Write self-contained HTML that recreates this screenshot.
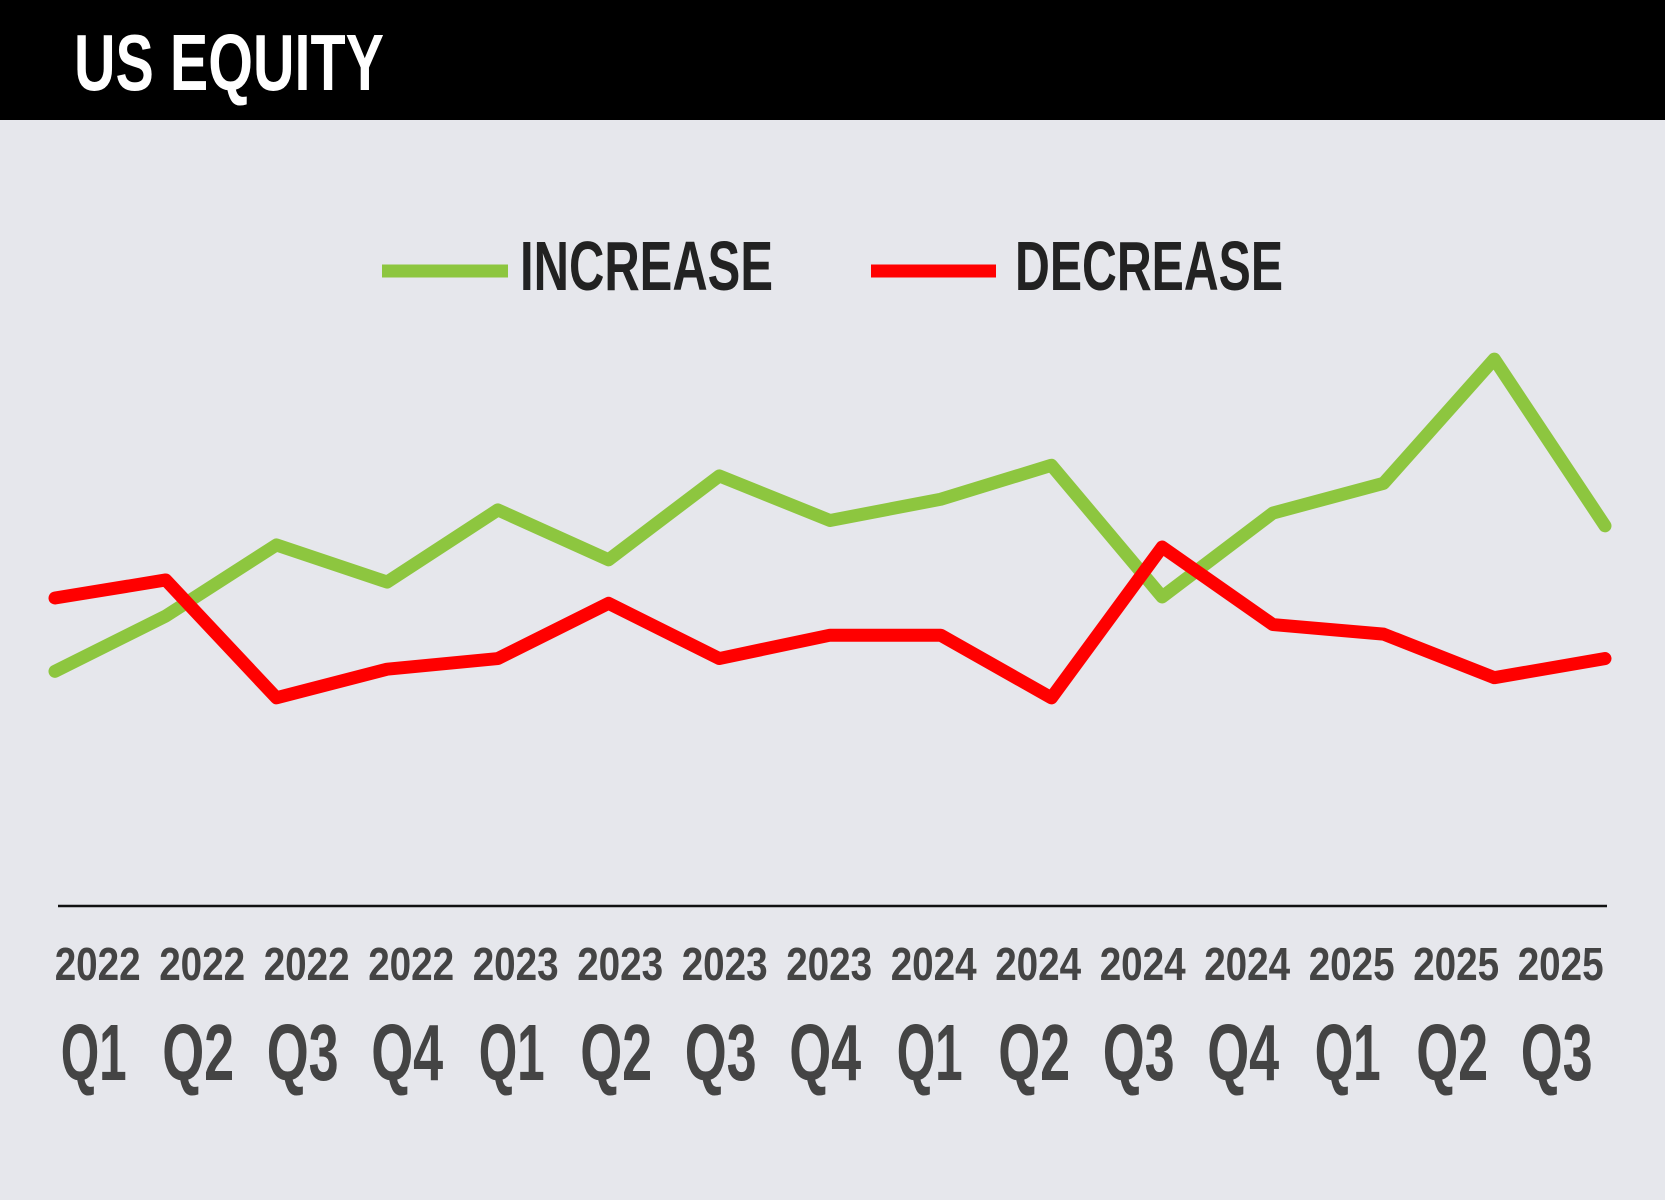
<!DOCTYPE html>
<html>
<head>
<meta charset="utf-8">
<style>
  html, body { margin: 0; padding: 0; }
  body { width: 1665px; height: 1200px; background: #e6e7ec; overflow: hidden; }
  svg { display: block; }
  text { font-family: "Liberation Sans", sans-serif; font-weight: bold; }
</style>
</head>
<body>
<svg id="chart" width="1665" height="1200" viewBox="0 0 1665 1200">
  <rect x="0" y="0" width="1665" height="1200" fill="#e6e7ec"/>
  <rect x="0" y="0" width="1665" height="120" fill="#000"/>
  <text x="74" y="90" font-size="80" fill="#fff" textLength="310" lengthAdjust="spacingAndGlyphs">US EQUITY</text>

  <g>
    <line x1="382" y1="271" x2="508" y2="271" stroke="#8dc63f" stroke-width="13"/>
    <text x="520" y="290" font-size="70" fill="#222" textLength="253" lengthAdjust="spacingAndGlyphs">INCREASE</text>
    <line x1="871" y1="271" x2="996" y2="271" stroke="#ff0000" stroke-width="13"/>
    <text x="1015" y="290" font-size="70" fill="#222" textLength="268" lengthAdjust="spacingAndGlyphs">DECREASE</text>
  </g>

  <line x1="58" y1="906" x2="1607" y2="906" stroke="#111" stroke-width="2.5"/>
  <g id="series"></g>
  <g id="labels"></g>
</svg>
<script>
const years = ["2022","2022","2022","2022","2023","2023","2023","2023","2024","2024","2024","2024","2025","2025","2025"];
const quarters = ["Q1","Q2","Q3","Q4","Q1","Q2","Q3","Q4","Q1","Q2","Q3","Q4","Q1","Q2","Q3"];
const increaseValues = [44.2, 54.6, 68, 61, 74.6, 65.2, 81, 72.6, 76.6, 83, 58.2, 74, 79.6, 103, 71.6];
const decreaseValues = [58, 61.4, 39.2, 44.6, 46.6, 57, 46.6, 51, 51, 39.2, 67.6, 53, 51.2, 43, 46.6];

const NS = "http://www.w3.org/2000/svg";
function xPos(i) { return 55 + i * (1605 - 55) / (years.length - 1); }
function yPos(v) { return 906 - v * 5.31; }
function labelX(i) { return 97.7 + i * 104.5; }

const series = document.getElementById('series');
function drawLine(vals, color, name) {
  const p = document.createElementNS(NS, 'polyline');
  p.setAttribute('points', vals.map((v, i) => xPos(i) + ',' + yPos(v)).join(' '));
  p.setAttribute('fill', 'none');
  p.setAttribute('stroke', color);
  p.setAttribute('stroke-width', '13');
  p.setAttribute('stroke-linecap', 'round');
  p.setAttribute('stroke-linejoin', 'round');
  
  
  series.appendChild(p);
}
drawLine(increaseValues, '#8dc63f', 'increase-line');
drawLine(decreaseValues, '#ff0000', 'decrease-line');

const labels = document.getElementById('labels');
years.forEach((y, i) => {
  const t = document.createElementNS(NS, 'text');
  t.setAttribute('x', labelX(i));
  t.setAttribute('y', 980);
  t.setAttribute('text-anchor', 'middle');
  t.setAttribute('font-size', '46');
  t.setAttribute('fill', '#444');
  t.setAttribute('textLength', '86');
  t.setAttribute('lengthAdjust', 'spacingAndGlyphs');
  t.textContent = y;
  
  
  labels.appendChild(t);

  const q = document.createElementNS(NS, 'text');
  q.setAttribute('x', labelX(i) - 4);
  q.setAttribute('y', 1080);
  q.setAttribute('text-anchor', 'middle');
  q.setAttribute('font-size', '80');
  q.setAttribute('fill', '#444');
  q.setAttribute('textLength', quarters[i] === 'Q1' ? '66' : '72');
  q.setAttribute('lengthAdjust', 'spacingAndGlyphs');
  q.textContent = quarters[i];
  
  
  labels.appendChild(q);
});
</script>
</body>
</html>
